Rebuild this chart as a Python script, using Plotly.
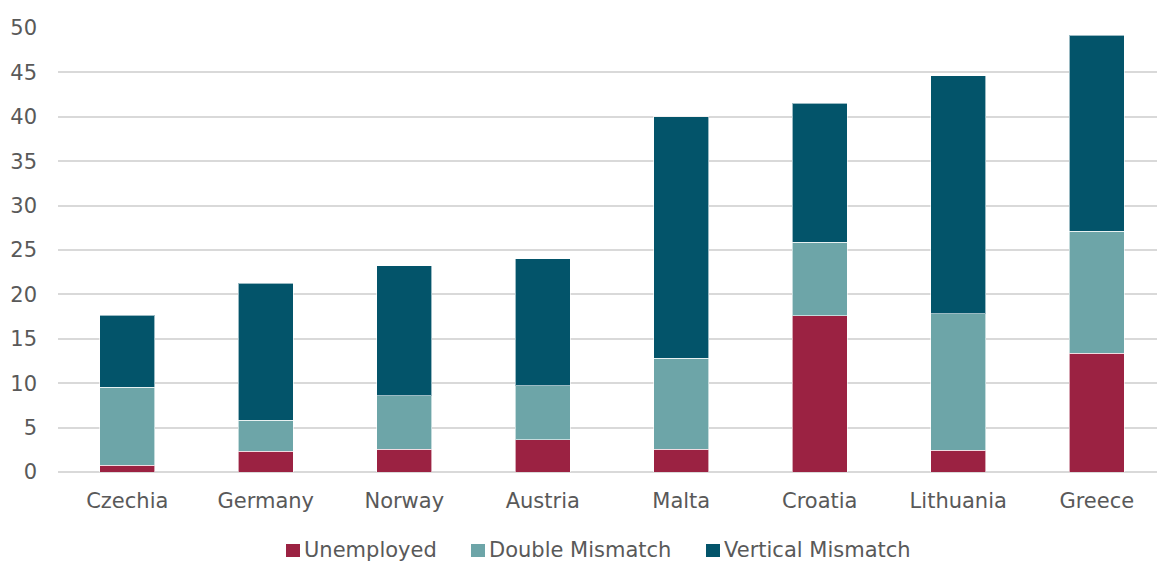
import plotly.graph_objects as go

countries = ["Czechia", "Germany", "Norway", "Austria", "Malta", "Croatia", "Lithuania", "Greece"]
unemployed = [0.75, 2.35, 2.55, 3.65, 2.55, 17.6, 2.45, 13.35]
double_mismatch = [8.8, 3.5, 6.05, 6.05, 10.25, 8.3, 15.35, 13.75]
vertical_mismatch = [8.1, 15.4, 14.6, 14.3, 27.2, 15.6, 26.8, 22.1]
series_names = ["Unemployed", "Double Mismatch", "Vertical Mismatch"]
series_colors = ["#9B2242", "#6DA5A8", "#03546A"]
y_ticks = [0, 5, 10, 15, 20, 25, 30, 35, 40, 45, 50]

FONT = "DejaVu Sans, Verdana, sans-serif"
TEXT = "#595959"

W, H = 1157, 561
M_L, M_R, M_T, M_B = 58, 0, 28, 89
PLOT_W = W - M_L - M_R
PLOT_H = H - M_T - M_B


def px_to_paper_x(px):
    return (px - M_L) / PLOT_W


def px_to_paper_y(py):
    return (H - M_B - py) / PLOT_H


fig = go.Figure()
for name, vals, color in zip(series_names,
                             [unemployed, double_mismatch, vertical_mismatch],
                             series_colors):
    fig.add_trace(go.Bar(
        x=countries, y=vals, name=name,
        marker=dict(color=color, line=dict(color="rgba(255,255,255,0.6)", width=1)),
        width=0.4,
    ))

# legend row below the axis: small square swatch followed by the series name
legend_text_left = [302, 487, 722]
legend_mid_y = 550
for name, color, tx in zip(series_names, series_colors, legend_text_left):
    fig.add_shape(type="rect", xref="paper", yref="paper",
                  x0=px_to_paper_x(tx - 16), x1=px_to_paper_x(tx - 2),
                  y0=px_to_paper_y(legend_mid_y + 7), y1=px_to_paper_y(legend_mid_y - 6),
                  fillcolor=color, line=dict(width=0))
    fig.add_annotation(xref="paper", yref="paper", x=px_to_paper_x(tx),
                       y=px_to_paper_y(legend_mid_y), xanchor="left", yanchor="middle",
                       text=name, showarrow=False,
                       font=dict(family=FONT, size=21, color=TEXT))

fig.update_layout(
    barmode="stack",
    width=W, height=H,
    margin=dict(l=M_L, r=M_R, t=M_T, b=M_B, autoexpand=False),
    plot_bgcolor="white", paper_bgcolor="white",
    font=dict(family=FONT, size=21, color=TEXT),
    showlegend=False,
)
fig.update_yaxes(range=[0, 50], tickvals=y_ticks, showgrid=True, gridcolor="#D9D9D9",
                 gridwidth=2, zeroline=True, zerolinecolor="#D9D9D9", zerolinewidth=2,
                 ticklabelstandoff=20, showline=False, automargin=False)
# the category axis runs slightly past the right edge of the figure
fig.update_xaxes(range=[-0.5, 7.435], showgrid=False, showline=False,
                 ticklabelstandoff=14, automargin=False)

fig.write_html("out.html")
